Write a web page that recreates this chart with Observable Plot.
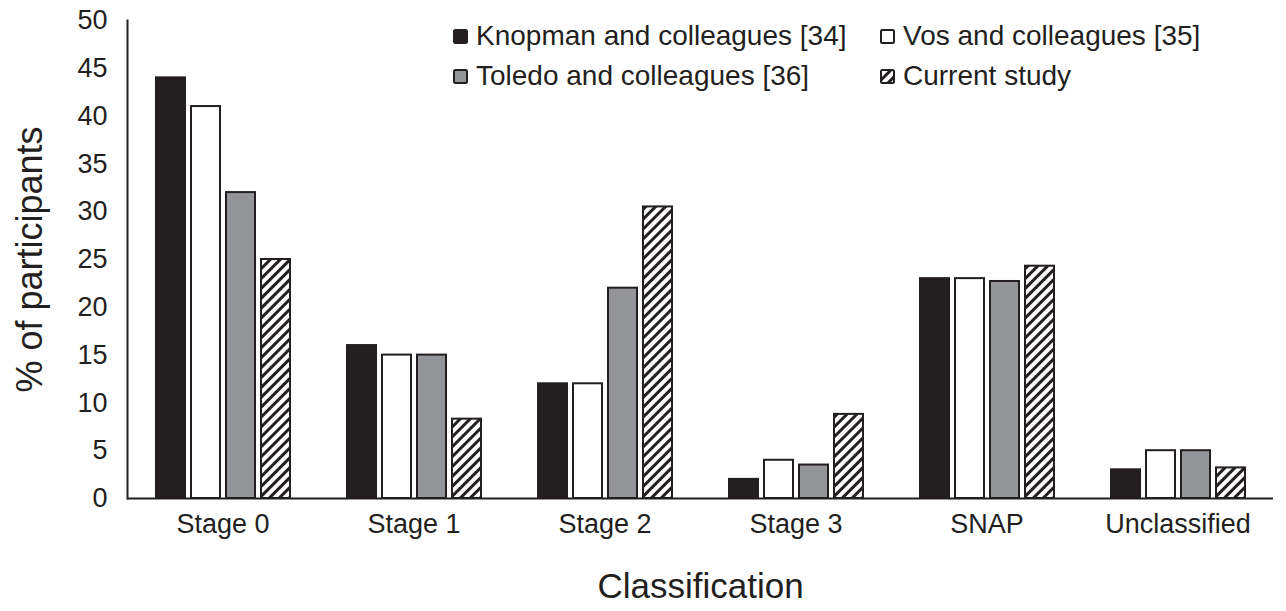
<!DOCTYPE html>
<html>
<head>
<meta charset="utf-8">
<script src="https://cdn.jsdelivr.net/npm/d3@7"></script>
<script src="https://cdn.jsdelivr.net/npm/@observablehq/plot@0.6"></script>
<style>
  html, body { margin: 0; padding: 0; background: #ffffff; }
  #wrap { position: relative; width: 1286px; height: 611px; font-family: "Liberation Sans", Arial, sans-serif; color: #231f20; }
  #legend { position: absolute; left: 453px; top: 20px; display: grid; grid-template-columns: 427px auto; row-gap: 8px; font-size: 28px; line-height: 32px; }
  .item { display: flex; align-items: center; white-space: nowrap; }
  .item svg { margin-right: 8px; }
</style>
</head>
<body>
<div id="wrap"><div id="legend"></div></div>
<script>
const categories = ["Stage 0", "Stage 1", "Stage 2", "Stage 3", "SNAP", "Unclassified"];
const series = ["Knopman and colleagues [34]", "Vos and colleagues [35]", "Toledo and colleagues [36]", "Current study"];
const knopman = [44, 16, 12, 2, 23, 3];
const vos = [41, 15, 12, 4, 23, 5];
const toledo = [32, 15, 22, 3.5, 22.7, 5];
const current = [25, 8.3, 30.5, 8.8, 24.3, 3.2];
const yTicks = [0, 5, 10, 15, 20, 25, 30, 35, 40, 45, 50];
const fills = ["#231f20", "#ffffff", "#939598", "url(#hatch)"];

const values = [knopman, vos, toledo, current];
const rows = categories.flatMap((c, i) => series.map((s, j) => ({cls: c, series: s, value: values[j][i]})));

const chart = Plot.plot({
  width: 1286,
  height: 611,
  marginLeft: 124,
  marginRight: 11,
  marginTop: 20,
  marginBottom: 113,
  style: {fontFamily: "'Liberation Sans', Arial, sans-serif", background: "transparent", color: "#231f20"},
  fx: {domain: categories, padding: 0},
  x: {domain: series, paddingInner: 0.18, paddingOuter: 0.8, axis: null},
  y: {domain: [0, 50]},
  color: {domain: series, range: fills},
  marks: [
    Plot.axisY({ticks: yTicks, tickSize: 0, tickPadding: 20, fontSize: 27, label: null}),
    Plot.axisY({ticks: [], label: "% of participants", labelAnchor: "center", labelOffset: 111, labelArrow: "none", fontSize: 36}),
    Plot.axisFx({anchor: "bottom", tickSize: 0, tickPadding: 15, fontSize: 27, label: null}),
    Plot.axisFx({anchor: "bottom", ticks: [], label: "Classification", labelAnchor: "center", labelOffset: 99, labelArrow: "none", fontSize: 35}),
    Plot.barY(rows, {fx: "cls", x: "series", y: "value", fill: "series", stroke: "#231f20", strokeWidth: 2}),
    Plot.ruleY([0], {stroke: "#231f20", strokeWidth: 2}),
    Plot.frame({anchor: "left", fx: () => categories[0], stroke: "#231f20", strokeWidth: 2})
  ]
});

const svg = d3.select(chart);
const defs = svg.insert("defs", ":first-child");
const pat = defs.append("pattern").attr("id", "hatch").attr("patternUnits", "userSpaceOnUse")
  .attr("width", 7).attr("height", 7).attr("patternTransform", "rotate(45)");
pat.append("rect").attr("width", 7).attr("height", 7).attr("fill", "#ffffff");
pat.append("rect").attr("width", 3).attr("height", 7).attr("fill", "#231f20");

document.getElementById("wrap").prepend(chart);

const legend = d3.select("#legend");
[0, 1, 2, 3].forEach(j => {
  const item = legend.append("div").attr("class", "item");
  const sw = item.append("svg").attr("width", 15).attr("height", 15);
  sw.append("rect").attr("x", 1).attr("y", 1).attr("width", 13).attr("height", 13).attr("rx", 1.5)
    .attr("fill", fills[j]).attr("stroke", "#231f20").attr("stroke-width", 2);
  item.append("span").text(series[j]);
});
</script>
</body>
</html>
